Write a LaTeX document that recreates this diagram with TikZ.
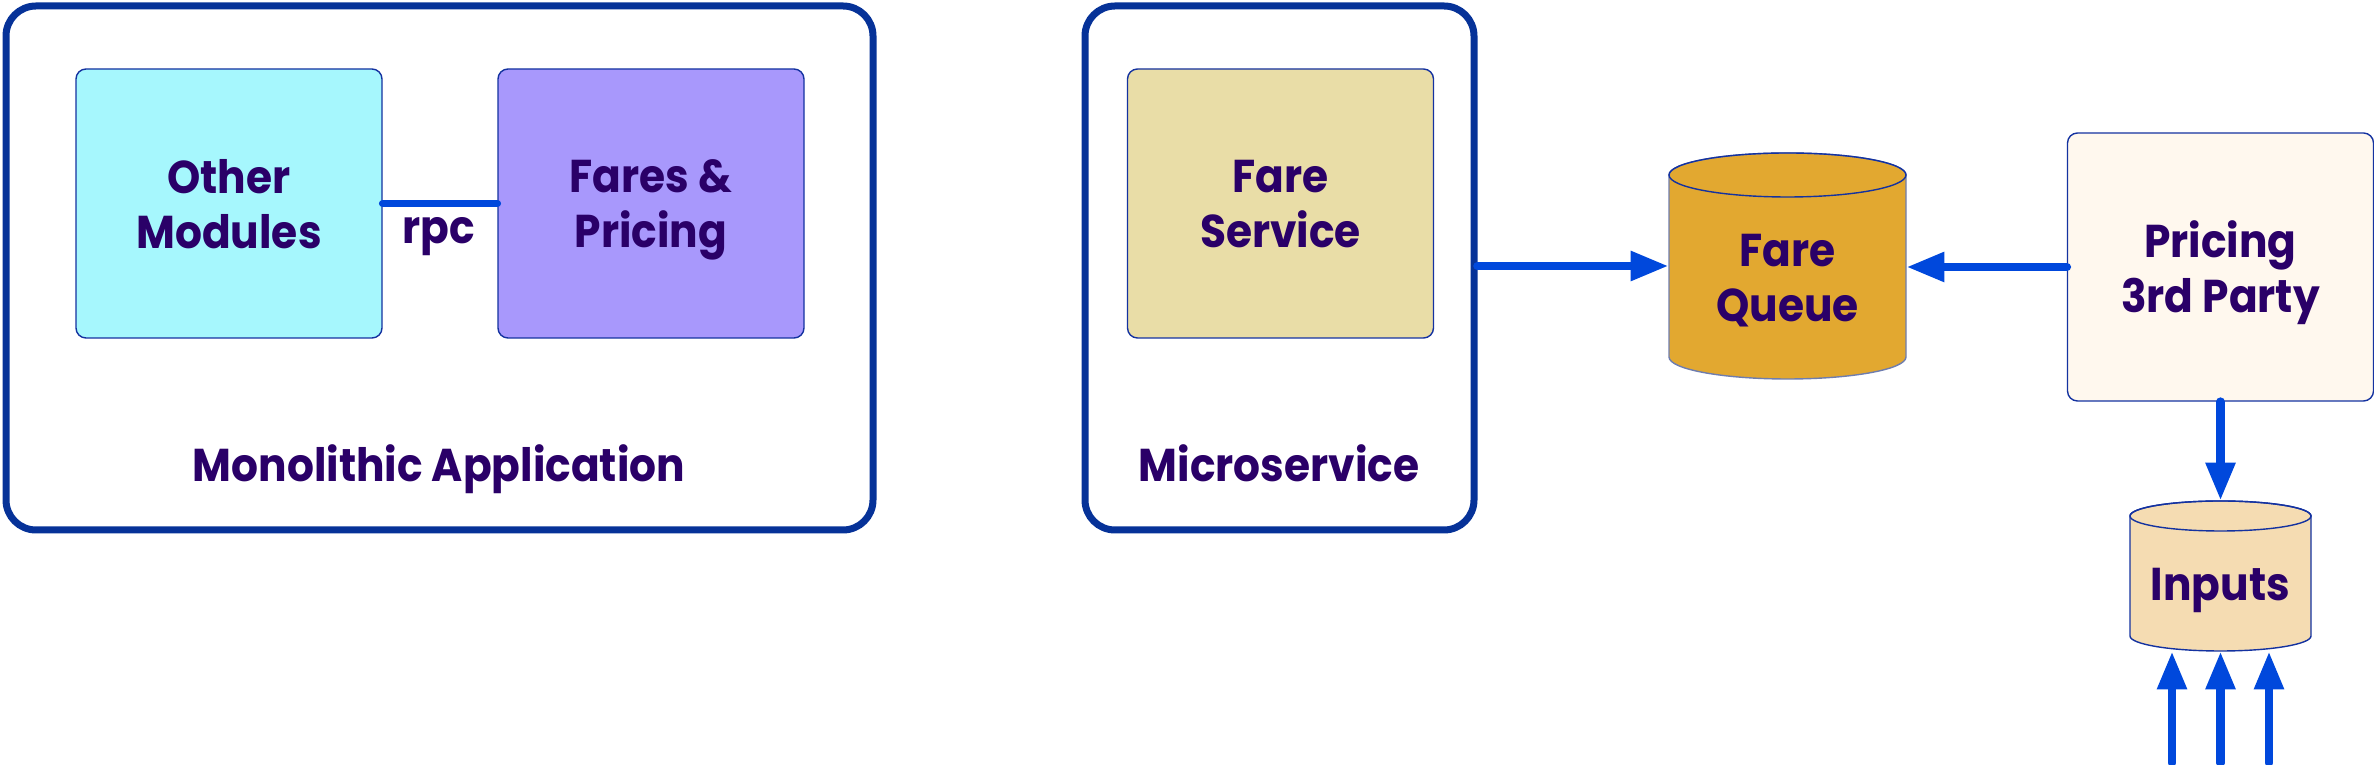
\documentclass[tikz,border=0pt]{standalone}
\usepackage{fontspec}
\setmainfont{Poppins}[FakeStretch=0.92]
\usetikzlibrary{arrows.meta,calc}
\definecolor{frameblue}{RGB}{6,50,152}
\definecolor{thinblue}{RGB}{20,50,160}
\definecolor{arrblue}{RGB}{0,72,220}
\definecolor{txt}{RGB}{42,0,104}
\definecolor{cyanfill}{RGB}{166,247,253}
\definecolor{purplefill}{RGB}{168,152,252}
\definecolor{fsfill}{RGB}{233,221,167}
\definecolor{fqfill}{RGB}{226,168,48}
\definecolor{fqline}{RGB}{110,125,175}
\definecolor{prfill}{RGB}{255,248,238}
\definecolor{infill}{RGB}{245,220,178}
\tikzset{
  x=0.5pt, y=0.5pt,
  lbl/.style={font=\fontsize{23}{27.5}\selectfont\bfseries, text=txt, align=center, text depth=0pt, inner sep=0pt},
  frame/.style={draw=frameblue, line width=3.5pt, rounded corners=15pt, fill=white, inner sep=0pt},
  module/.style={draw=thinblue, line width=0.7pt, rounded corners=5pt, inner sep=0pt,
    minimum width=153pt, minimum height=134.5pt, lbl},
  ghost/.style={inner sep=0pt},
  conn/.style={draw=arrblue, line width=3.8pt, line cap=round},
  arr/.style={draw=arrblue, line width=4.3pt, line cap=round, -{Triangle[length=19pt,width=14pt]}},
}
\begin{document}
\begin{tikzpicture}
\useasboundingbox (0,0) rectangle (2374,765);
% outer frames
\node[frame, minimum width=433.5pt, minimum height=262pt] (mono) at (439.5,497) {};
\node[frame, minimum width=194.5pt, minimum height=262pt] (micro) at (1279.5,497) {};
% modules
\node[module, fill=cyanfill] (om) at (229,561.5) {Other\\Modules};
\node[module, fill=purplefill] (fp) at (651,561.5) {Fares \&\\Pricing};
\node[module, fill=fsfill] (fs) at (1280.5,561.5) {Fare\\Service};
\node[module, fill=prfill, minimum height=134pt] (pr) at (2220.5,498) {Pricing\\3rd Party};
% labels
\node[lbl, anchor=base] (rpc) at (439,521) {rpc};
\node[lbl, anchor=base] (monot) at (439,283) {Monolithic Application};
\node[lbl, anchor=base] (microt) at (1279,283) {Microservice};
% Fare Queue cylinder
\node[ghost, minimum width=118.5pt, minimum height=113pt] (fq) at (1787.5,499) {};
\filldraw[fill=fqfill, draw=fqline, line width=0.7pt]
  (1669,590) -- (1669,408) arc[start angle=180, end angle=360, x radius=59.25pt, y radius=11pt]
  -- (1906,590) arc[start angle=0, end angle=180, x radius=59.25pt, y radius=11pt] -- cycle;
\draw[draw=thinblue, line width=0.7pt] (1787.5,590) ellipse[x radius=59.25pt, y radius=11pt];
\node[lbl] (fqt) at (1787.5,487) {Fare\\Queue};
% Inputs cylinder
\node[ghost, minimum width=90.5pt, minimum height=75pt] (in) at (2220.5,189) {};
\filldraw[fill=infill, draw=thinblue, line width=0.7pt]
  (2130,249) -- (2130,129) arc[start angle=180, end angle=360, x radius=45.25pt, y radius=7.5pt]
  -- (2311,249) arc[start angle=0, end angle=180, x radius=45.25pt, y radius=7.5pt] -- cycle;
\draw[draw=thinblue, line width=0.7pt] (2220.5,249) ellipse[x radius=45.25pt, y radius=7.5pt];
\node[lbl] (int) at (2220.5,181) {Inputs};
% connectors
\draw[conn] (om.east) -- (fp.west);
\draw[arr] (micro.east |- fq.west) -- (fq.west);
\draw[arr] (pr.west) -- (pr.west -| fq.east);
\draw[arr] (pr.south) -- (in.north);
\coordinate (s1) at (2172,2);
\coordinate (s2) at (2220.5,2);
\coordinate (s3) at (2269,2);
\draw[arr] (s1) -- (s1 |- in.south);
\draw[arr] (s2) -- (s2 |- in.south);
\draw[arr] (s3) -- (s3 |- in.south);
\end{tikzpicture}
\end{document}
